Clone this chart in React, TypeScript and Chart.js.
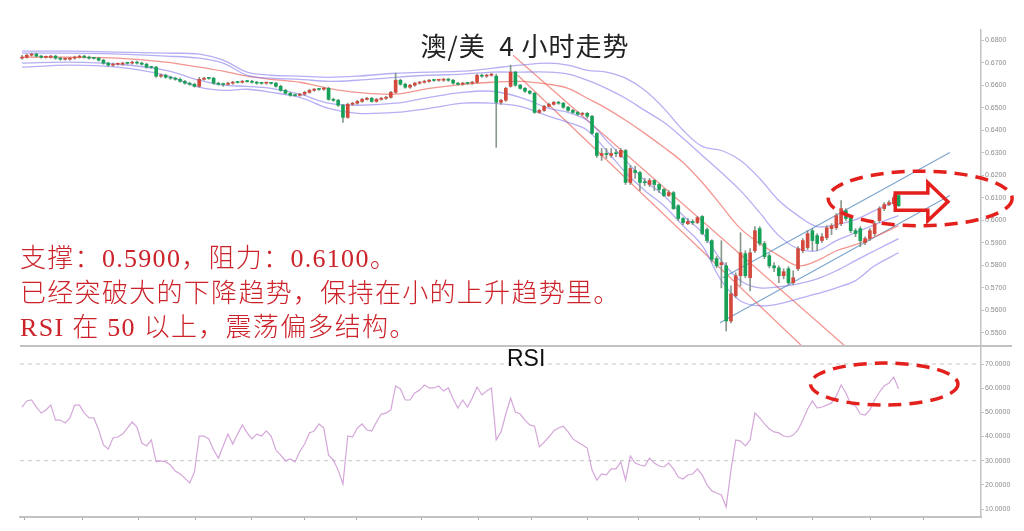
import React, { useEffect, useRef } from 'react';
import { Chart, registerables } from 'chart.js';

Chart.register(...registerables);
Chart.defaults.font.family = '"Liberation Sans", Arial, sans-serif';

// ---- price data, in pips (price x 10000) ----
const PIP = 10000;

const OPEN = [
  6720, 6724, 6733, 6738, 6729, 6724, 6724, 6729, 6720, 6715,
  6715, 6720, 6724, 6729, 6724, 6720, 6720, 6711, 6698, 6689,
  6693, 6693, 6698, 6698, 6702, 6698, 6693, 6680, 6680, 6640,
  6644, 6635, 6631, 6626, 6617, 6609, 6604, 6595, 6626, 6631,
  6631, 6609, 6604, 6604, 6609, 6613, 6613, 6617, 6617, 6613,
  6609, 6609, 6609, 6609, 6595, 6577, 6564, 6555, 6555, 6560,
  6568, 6577, 6582, 6582, 6586, 6537, 6533, 6511, 6457, 6515,
  6520, 6528, 6537, 6542, 6528, 6537, 6542, 6546, 6568, 6622,
  6604, 6591, 6600, 6609, 6613, 6617, 6622, 6622, 6622, 6626,
  6622, 6609, 6604, 6609, 6609, 6613, 6644, 6640, 6644, 6640,
  6524, 6533, 6595, 6658, 6600, 6586, 6573, 6564, 6479, 6488,
  6506, 6515, 6524, 6520, 6502, 6488, 6479, 6471, 6475, 6462,
  6386, 6288, 6297, 6288, 6297, 6283, 6310, 6168, 6221, 6212,
  6168, 6159, 6177, 6159, 6137, 6110, 6123, 6065, 6008, 5985,
  5995, 5990, 6017, 5959, 5910, 5830, 5803, 5798, 5553, 5665,
  5754, 5852, 5745, 5865, 5963, 5897, 5843, 5798, 5789, 5754,
  5785, 5723, 5785, 5865, 5879, 5954, 5932, 5910, 5923, 5963,
  5967, 5985, 6043, 6012, 5954, 5963, 5901, 5919, 5941, 5999,
  6052, 6070, 6074, 6110,
];
const HIGH = [
  6733, 6738, 6742, 6742, 6733, 6729, 6733, 6733, 6724, 6720,
  6724, 6729, 6733, 6733, 6729, 6724, 6724, 6715, 6702, 6698,
  6698, 6702, 6702, 6707, 6707, 6702, 6698, 6684, 6684, 6649,
  6649, 6640, 6635, 6631, 6622, 6613, 6609, 6635, 6635, 6635,
  6635, 6613, 6609, 6613, 6617, 6617, 6622, 6622, 6622, 6617,
  6613, 6613, 6613, 6613, 6600, 6582, 6568, 6560, 6564, 6573,
  6582, 6586, 6586, 6591, 6591, 6542, 6537, 6515, 6520, 6524,
  6533, 6542, 6546, 6546, 6542, 6546, 6551, 6573, 6653, 6626,
  6609, 6604, 6613, 6617, 6622, 6626, 6626, 6626, 6631, 6631,
  6626, 6613, 6613, 6613, 6617, 6649, 6649, 6649, 6653, 6649,
  6537, 6591, 6689, 6662, 6604, 6591, 6577, 6568, 6493, 6511,
  6520, 6528, 6528, 6524, 6506, 6493, 6484, 6479, 6479, 6466,
  6390, 6319, 6319, 6319, 6315, 6319, 6315, 6244, 6240, 6217,
  6186, 6186, 6181, 6163, 6141, 6132, 6128, 6070, 6012, 6008,
  6003, 6017, 6021, 5967, 5914, 5839, 5910, 5812, 5709, 5767,
  5945, 5865, 5874, 5972, 5972, 5906, 5852, 5812, 5798, 5785,
  5794, 5776, 5883, 5919, 5954, 5963, 5941, 5941, 5976, 5985,
  6030, 6088, 6052, 6021, 5963, 5972, 5927, 5963, 5995, 6061,
  6079, 6088, 6114, 6119,
];
const LOW = [
  6715, 6720, 6729, 6724, 6720, 6720, 6720, 6715, 6711, 6711,
  6711, 6715, 6720, 6720, 6715, 6715, 6707, 6693, 6684, 6684,
  6689, 6689, 6693, 6693, 6693, 6689, 6675, 6675, 6635, 6635,
  6631, 6626, 6622, 6613, 6604, 6600, 6591, 6591, 6622, 6626,
  6604, 6600, 6595, 6600, 6604, 6609, 6609, 6613, 6609, 6604,
  6604, 6604, 6604, 6591, 6573, 6560, 6551, 6551, 6551, 6555,
  6564, 6573, 6577, 6577, 6533, 6528, 6506, 6435, 6453, 6511,
  6515, 6524, 6533, 6524, 6524, 6533, 6537, 6542, 6564, 6600,
  6586, 6586, 6595, 6604, 6609, 6613, 6617, 6617, 6617, 6617,
  6604, 6600, 6600, 6604, 6604, 6609, 6635, 6635, 6640, 6324,
  6515, 6528, 6591, 6595, 6582, 6568, 6560, 6475, 6475, 6484,
  6502, 6511, 6515, 6497, 6484, 6475, 6466, 6466, 6453, 6382,
  6279, 6266, 6275, 6279, 6283, 6279, 6159, 6159, 6186, 6132,
  6154, 6150, 6132, 6123, 6105, 6105, 6048, 5999, 5981, 5981,
  5981, 5985, 5936, 5901, 5816, 5789, 5700, 5509, 5545, 5656,
  5709, 5745, 5687, 5856, 5888, 5830, 5789, 5772, 5723, 5740,
  5714, 5714, 5776, 5856, 5870, 5865, 5865, 5901, 5914, 5936,
  5959, 5976, 5999, 5945, 5927, 5883, 5892, 5910, 5932, 5990,
  6043, 6065, 6065, 6061,
];
const CLOSE = [
  6724, 6733, 6738, 6729, 6724, 6725, 6729, 6720, 6715, 6716,
  6720, 6724, 6729, 6724, 6720, 6719, 6711, 6698, 6689, 6693,
  6694, 6698, 6697, 6702, 6698, 6693, 6680, 6679, 6640, 6644,
  6635, 6631, 6626, 6617, 6609, 6604, 6595, 6626, 6631, 6630,
  6609, 6604, 6603, 6609, 6613, 6612, 6617, 6616, 6613, 6609,
  6608, 6610, 6608, 6595, 6577, 6564, 6555, 6554, 6560, 6568,
  6577, 6582, 6581, 6586, 6537, 6533, 6511, 6457, 6515, 6520,
  6528, 6537, 6542, 6528, 6537, 6542, 6546, 6568, 6622, 6604,
  6591, 6600, 6609, 6613, 6617, 6622, 6621, 6623, 6626, 6622,
  6609, 6604, 6609, 6608, 6613, 6644, 6640, 6644, 6649, 6524,
  6533, 6586, 6658, 6600, 6586, 6573, 6564, 6479, 6488, 6506,
  6515, 6524, 6520, 6502, 6488, 6479, 6471, 6475, 6462, 6386,
  6288, 6297, 6292, 6297, 6296, 6310, 6168, 6230, 6212, 6168,
  6167, 6177, 6159, 6137, 6110, 6123, 6052, 6008, 5990, 5995,
  5990, 6012, 5941, 5910, 5826, 5798, 5812, 5553, 5674, 5754,
  5856, 5754, 5856, 5954, 5897, 5839, 5798, 5789, 5754, 5772,
  5723, 5745, 5874, 5910, 5941, 5910, 5897, 5927, 5967, 5976,
  6021, 6052, 6008, 5954, 5941, 5910, 5919, 5954, 5985, 6052,
  6070, 6079, 6101, 6065,
];

// ---- band / moving-average lines (read at these candle positions) ----
const BAND_IDX = [0, 10, 20, 30, 37, 42, 47, 52, 58, 64, 70, 78, 85, 92, 98, 104, 110, 114, 118, 122, 126, 130, 134, 138, 142, 146, 150, 154, 158, 162, 166, 170, 174, 178, 183];
const BB_UPPER_OUTER = [6751, 6751, 6747, 6742, 6738, 6711, 6658, 6644, 6640, 6635, 6640, 6653, 6658, 6662, 6675, 6689, 6698, 6689, 6666, 6658, 6631, 6577, 6497, 6400, 6328, 6310, 6266, 6186, 6088, 6021, 5972, 5981, 6003, 6043, 6088];
const BB_UPPER_INNER = [6742, 6742, 6738, 6729, 6720, 6698, 6644, 6631, 6626, 6617, 6622, 6635, 6644, 6649, 6658, 6658, 6658, 6649, 6622, 6586, 6542, 6488, 6435, 6364, 6288, 6212, 6132, 6034, 5932, 5874, 5865, 5910, 5945, 5981, 6021];
const MA_MID = [6724, 6724, 6720, 6702, 6680, 6662, 6640, 6626, 6613, 6586, 6568, 6560, 6586, 6604, 6613, 6617, 6604, 6586, 6542, 6497, 6444, 6386, 6324, 6257, 6168, 6065, 5963, 5897, 5843, 5798, 5821, 5865, 5892, 5927, 5976];
const BB_LOWER_INNER = [6698, 6702, 6693, 6666, 6622, 6600, 6595, 6586, 6560, 6520, 6511, 6520, 6546, 6568, 6573, 6546, 6497, 6479, 6444, 6355, 6266, 6177, 6110, 6021, 5945, 5821, 5732, 5700, 5705, 5718, 5740, 5776, 5821, 5865, 5919];
const BB_LOWER_OUTER = [6680, 6689, 6680, 6644, 6591, 6577, 6582, 6568, 6546, 6497, 6475, 6479, 6497, 6520, 6520, 6506, 6462, 6435, 6400, 6310, 6212, 6132, 6065, 5976, 5888, 5732, 5642, 5620, 5629, 5651, 5674, 5700, 5732, 5798, 5856];

// ---- trend lines: [candle position, pips] end points ----
const DOWN_UPPER_X = [102.5, 171.8];
const DOWN_UPPER_Y = [6733, 5442];
const DOWN_LOWER_X = [103.5, 162.8];
const DOWN_LOWER_Y = [6644, 5442];
const UP_UPPER_X = [146.3, 193.7];
const UP_UPPER_Y = [5745, 6301];
const UP_LOWER_X = [145.7, 193.7];
const UP_LOWER_Y = [5545, 6110];

// ---- RSI ----
const RSI = [
  52.2, 54.7, 55.1, 52.2, 49.7, 51.0, 53.0, 46.8, 46.8, 45.6,
  47.7, 53.0, 53.0, 49.7, 47.7, 47.7, 42.7, 36.5, 34.8, 39.4,
  39.8, 41.0, 43.5, 46.0, 43.9, 37.3, 36.1, 38.6, 29.5, 29.9,
  29.5, 28.2, 25.7, 24.5, 22.8, 20.8, 25.3, 40.2, 40.2, 39.0,
  34.4, 31.1, 36.1, 41.0, 36.9, 41.0, 44.8, 41.5, 39.0, 41.0,
  40.2, 42.3, 40.2, 34.4, 32.3, 29.9, 30.7, 29.5, 33.8, 36.9,
  41.5, 42.3, 45.2, 43.5, 32.3, 30.3, 26.1, 20.4, 40.2, 39.8,
  43.5, 45.2, 42.7, 42.3, 46.0, 49.3, 49.7, 51.0, 60.9, 59.7,
  55.1, 55.1, 58.0, 59.2, 61.3, 60.1, 60.1, 60.9, 58.8, 60.1,
  55.5, 51.8, 55.1, 52.2, 55.9, 60.5, 57.2, 58.8, 60.1, 38.6,
  41.9, 49.3, 55.9, 50.1, 49.3, 46.8, 44.8, 44.3, 35.7, 37.7,
  39.8, 42.3, 43.5, 44.3, 41.9, 39.0, 37.7, 36.5, 35.2, 26.1,
  22.0, 24.5, 24.1, 26.6, 26.6, 29.5, 22.0, 31.9, 29.0, 28.2,
  27.8, 31.1, 29.0, 27.8, 27.4, 29.0, 26.6, 23.2, 22.4, 24.1,
  24.5, 26.6, 24.1, 20.0, 17.5, 16.6, 15.8, 10.8, 26.1, 38.6,
  38.1, 36.1, 38.6, 49.7, 47.7, 45.2, 43.1, 41.9, 41.5, 40.2,
  39.8, 40.6, 42.7, 46.8, 51.4, 54.7, 51.8, 52.2, 53.0, 53.9,
  56.8, 61.3, 58.0, 53.5, 52.6, 49.3, 48.9, 51.0, 55.1, 58.4,
  60.9, 62.1, 64.6, 59.7,
];
const RSI_LEVELS = [70, 30];

// ---- axes ----
const PRICE_TICKS = [5500, 5600, 5700, 5800, 5900, 6000, 6100, 6200, 6300, 6400, 6500, 6600, 6700, 6800];
const RSI_TICKS = [10, 20, 30, 40, 50, 60, 70];
const TIME_TICKS = [0.6, 12.7, 24.4, 36.3, 48.0, 58.9, 69.9, 83.5, 95.4, 106.3, 118.0, 128.8, 141.5, 153.4, 165.1, 177.2, 188.1];
const X_MIN = -0.42;
const X_MAX = 200.2;
const PRICE_MIN = 5442;
const PRICE_MAX = 6845;
const RSI_MIN = 6.7;
const RSI_MAX = 77.45;

// ---- annotations (data coordinates) ----
const MAIN_ELLIPSE = { cx: 187.5, cy: 6097, rx: 19.2, ry: 121 };
const RSI_ELLIPSE = { cx: 180.0, cy: 61.7, rx: 15.4, ry: 8.7 };
const ARROW = { x0: 182.3, xHead: 189.1, xTip: 193.3, y: 6083, shaft: 38, head: 85 };

const TITLE = '澳/美  4 小时走势';
const NOTES = [
  '支撑：0.5900，阻力：0.6100。',
  '已经突破大的下降趋势，保持在小的上升趋势里。',
  'RSI 在 50 以上，震荡偏多结构。',
];

const UP_COLOR = '#d4493d';
const DOWN_COLOR = '#17a158';
const WICK_COLOR = 'rgba(115,135,120,0.85)';
const BAND_COLOR = 'rgba(120,110,235,0.55)';
const MA_COLOR = 'rgba(238,105,95,0.7)';
const TREND_RED = 'rgba(240,110,100,0.75)';
const TREND_BLUE = 'rgba(95,145,195,0.8)';
const DASH_RED = '#e3201b';
const AXIS_GREY = '#c2c2c2';

function pts(xs: number[], ys: number[], scale: number) {
  return xs.map((x, k) => ({ x, y: ys[k] / scale }));
}

function lineDs(data: any[], color: string, width: number, tension: number) {
  return {
    type: 'line' as const,
    data,
    borderColor: color,
    borderWidth: width,
    pointRadius: 0,
    tension,
    fill: false,
    order: 2,
  };
}

const mainOverlay = {
  id: 'mainOverlay',
  afterDraw(chart: any) {
    const { ctx } = chart;
    const x = chart.scales.x;
    const y = chart.scales.y;
    const cx = x.getPixelForValue(MAIN_ELLIPSE.cx);
    const cy = y.getPixelForValue(MAIN_ELLIPSE.cy / PIP);
    const rx = x.getPixelForValue(MAIN_ELLIPSE.cx + MAIN_ELLIPSE.rx) - cx;
    const ry = y.getPixelForValue((MAIN_ELLIPSE.cy - MAIN_ELLIPSE.ry) / PIP) - cy;
    ctx.save();
    ctx.strokeStyle = DASH_RED;
    ctx.lineWidth = 3.5;
    ctx.setLineDash([13, 8]);
    ctx.beginPath();
    ctx.ellipse(cx, cy, Math.abs(rx), Math.abs(ry), 0, 0, Math.PI * 2);
    ctx.stroke();
    ctx.setLineDash([]);
    const a0 = x.getPixelForValue(ARROW.x0);
    const a1 = x.getPixelForValue(ARROW.xHead);
    const a2 = x.getPixelForValue(ARROW.xTip);
    const ay = y.getPixelForValue(ARROW.y / PIP);
    const sh = y.getPixelForValue((ARROW.y - ARROW.shaft) / PIP) - ay;
    const hh = y.getPixelForValue((ARROW.y - ARROW.head) / PIP) - ay;
    ctx.lineWidth = 3.5;
    ctx.lineJoin = 'miter';
    ctx.beginPath();
    ctx.moveTo(a0, ay - sh);
    ctx.lineTo(a1, ay - sh);
    ctx.lineTo(a1, ay - hh);
    ctx.lineTo(a2, ay);
    ctx.lineTo(a1, ay + hh);
    ctx.lineTo(a1, ay + sh);
    ctx.lineTo(a0, ay + sh);
    ctx.closePath();
    ctx.stroke();
    ctx.restore();
  },
};

const rsiOverlay = {
  id: 'rsiOverlay',
  afterDraw(chart: any) {
    const { ctx, chartArea } = chart;
    const x = chart.scales.x;
    const y = chart.scales.y;
    ctx.save();
    ctx.strokeStyle = AXIS_GREY;
    ctx.lineWidth = 2;
    ctx.beginPath();
    ctx.moveTo(chartArea.left, chartArea.top);
    ctx.lineTo(chartArea.right + 31, chartArea.top);
    ctx.stroke();
    const cx = x.getPixelForValue(RSI_ELLIPSE.cx);
    const cy = y.getPixelForValue(RSI_ELLIPSE.cy);
    const rx = x.getPixelForValue(RSI_ELLIPSE.cx + RSI_ELLIPSE.rx) - cx;
    const ry = y.getPixelForValue(RSI_ELLIPSE.cy - RSI_ELLIPSE.ry) - cy;
    ctx.strokeStyle = DASH_RED;
    ctx.lineWidth = 3.5;
    ctx.setLineDash([13, 8]);
    ctx.beginPath();
    ctx.ellipse(cx, cy, Math.abs(rx), Math.abs(ry), 0, 0, Math.PI * 2);
    ctx.stroke();
    ctx.restore();
  },
};

function mainConfig(): any {
  const idx = CLOSE.map((_, i) => i);
  const colors = idx.map((i) => (CLOSE[i] >= OPEN[i] ? UP_COLOR : DOWN_COLOR));
  return {
    type: 'bar',
    data: {
      datasets: [
        {
          type: 'bar',
          data: idx.map((i) => ({ x: i, y: [OPEN[i] / PIP, CLOSE[i] / PIP] })),
          backgroundColor: colors,
          barThickness: 3,
          minBarLength: 1,
          grouped: false,
          order: 0,
        },
        {
          type: 'bar',
          data: idx.map((i) => ({ x: i, y: [LOW[i] / PIP, HIGH[i] / PIP] })),
          backgroundColor: WICK_COLOR,
          barThickness: 1,
          grouped: false,
          order: 1,
        },
        lineDs(pts(BAND_IDX, BB_UPPER_OUTER, PIP), BAND_COLOR, 1.3, 0.35),
        lineDs(pts(BAND_IDX, BB_UPPER_INNER, PIP), BAND_COLOR, 1.3, 0.35),
        lineDs(pts(BAND_IDX, MA_MID, PIP), MA_COLOR, 1.3, 0.35),
        lineDs(pts(BAND_IDX, BB_LOWER_INNER, PIP), BAND_COLOR, 1.3, 0.35),
        lineDs(pts(BAND_IDX, BB_LOWER_OUTER, PIP), BAND_COLOR, 1.3, 0.35),
        lineDs(pts(DOWN_UPPER_X, DOWN_UPPER_Y, PIP), TREND_RED, 1.2, 0),
        lineDs(pts(DOWN_LOWER_X, DOWN_LOWER_Y, PIP), TREND_RED, 1.2, 0),
        lineDs(pts(UP_UPPER_X, UP_UPPER_Y, PIP), TREND_BLUE, 1.3, 0),
        lineDs(pts(UP_LOWER_X, UP_LOWER_Y, PIP), TREND_BLUE, 1.3, 0),
      ],
    },
    options: {
      animation: false,
      responsive: false,
      devicePixelRatio: 1,
      events: [],
      layout: { padding: { left: 20, top: 30, right: 0, bottom: 14 } },
      plugins: { legend: { display: false }, tooltip: { enabled: false } },
      scales: {
        x: { type: 'linear', min: X_MIN, max: X_MAX, offset: false, display: false },
        y: {
          position: 'right',
          min: PRICE_MIN / PIP,
          max: PRICE_MAX / PIP,
          afterBuildTicks: (s: any) => {
            s.ticks = PRICE_TICKS.map((v) => ({ value: v / PIP }));
          },
          afterFit: (s: any) => {
            s.width = 43;
          },
          ticks: {
            autoSkip: false,
            padding: 1,
            color: '#8c8c8c',
            font: { size: 7 },
            callback: (v: any) => Number(v).toFixed(4),
          },
          grid: { drawOnChartArea: false, drawTicks: true, tickLength: 3, color: AXIS_GREY },
          border: { display: true, color: AXIS_GREY, width: 1.5 },
        },
      },
    },
    plugins: [mainOverlay],
  };
}

function rsiConfig(): any {
  return {
    type: 'line',
    data: {
      datasets: [
        {
          data: RSI.map((v, i) => ({ x: i, y: v })),
          borderColor: 'rgba(205,150,210,0.85)',
          borderWidth: 1.2,
          pointRadius: 0,
          tension: 0,
          fill: false,
        },
        ...RSI_LEVELS.map((lv) => ({
          data: [
            { x: X_MIN, y: lv },
            { x: X_MAX, y: lv },
          ],
          borderColor: '#c4c4c4',
          borderWidth: 1,
          borderDash: [4, 4],
          pointRadius: 0,
          fill: false,
        })),
      ],
    },
    options: {
      animation: false,
      responsive: false,
      devicePixelRatio: 1,
      events: [],
      layout: { padding: { left: 20, top: 16, right: 0, bottom: 0 } },
      plugins: { legend: { display: false }, tooltip: { enabled: false } },
      scales: {
        x: {
          type: 'linear',
          min: X_MIN,
          max: X_MAX,
          offset: false,
          afterBuildTicks: (s: any) => {
            s.ticks = TIME_TICKS.map((v) => ({ value: v }));
          },
          afterFit: (s: any) => {
            s.height = 14;
          },
          ticks: { display: false, autoSkip: false },
          grid: { drawOnChartArea: false, drawTicks: true, tickLength: 3, color: '#a8a8a8' },
          border: { display: true, color: AXIS_GREY, width: 2 },
        },
        y: {
          position: 'right',
          min: RSI_MIN,
          max: RSI_MAX,
          afterBuildTicks: (s: any) => {
            s.ticks = RSI_TICKS.map((v) => ({ value: v }));
          },
          afterFit: (s: any) => {
            s.width = 43;
          },
          ticks: {
            autoSkip: false,
            padding: 1,
            color: '#8c8c8c',
            font: { size: 7 },
            callback: (v: any) => Number(v).toFixed(4),
          },
          grid: { drawOnChartArea: false, drawTicks: true, tickLength: 3, color: AXIS_GREY },
          border: { display: true, color: AXIS_GREY, width: 1.5 },
        },
      },
    },
    plugins: [rsiOverlay],
  };
}

const noteStyle = (top: number): React.CSSProperties => ({
  position: 'absolute',
  left: 20,
  top,
  fontSize: 26,
  lineHeight: '26px',
  letterSpacing: '1.3px',
  whiteSpace: 'nowrap',
  color: '#cc2229',
  fontFamily: '"Liberation Serif", "Noto Sans CJK SC", serif',
  fontWeight: 300,
});

export default function App() {
  const mainRef = useRef<HTMLCanvasElement>(null);
  const rsiRef = useRef<HTMLCanvasElement>(null);

  useEffect(() => {
    const main = new Chart(mainRef.current as HTMLCanvasElement, mainConfig());
    const rsi = new Chart(rsiRef.current as HTMLCanvasElement, rsiConfig());
    return () => {
      main.destroy();
      rsi.destroy();
    };
  }, []);

  return (
    <div style={{ position: 'absolute', left: 0, top: 0, width: 1024, height: 531, background: '#fff', overflow: 'hidden' }}>
      <canvas ref={mainRef} width={1024} height={360} style={{ position: 'absolute', left: 0, top: 0, width: 1024, height: 360 }} />
      <canvas ref={rsiRef} width={1024} height={201} style={{ position: 'absolute', left: 0, top: 330, width: 1024, height: 201 }} />
      <div
        style={{
          position: 'absolute',
          left: 325,
          top: 32,
          width: 400,
          textAlign: 'center',
          fontSize: 26,
          lineHeight: '26px',
          letterSpacing: '1px',
          whiteSpace: 'pre',
          color: '#222',
          fontFamily: '"Noto Sans CJK SC", "Liberation Sans", sans-serif',
        }}
      >
        {TITLE}
      </div>
      <div style={noteStyle(246)}>{NOTES[0]}</div>
      <div style={noteStyle(281)}>{NOTES[1]}</div>
      <div style={noteStyle(315)}>{NOTES[2]}</div>
      <div
        style={{
          position: 'absolute',
          left: 507,
          top: 347,
          fontSize: 23,
          lineHeight: '23px',
          color: '#111',
          fontFamily: '"Liberation Sans", Arial, sans-serif',
        }}
      >
        RSI
      </div>
    </div>
  );
}
